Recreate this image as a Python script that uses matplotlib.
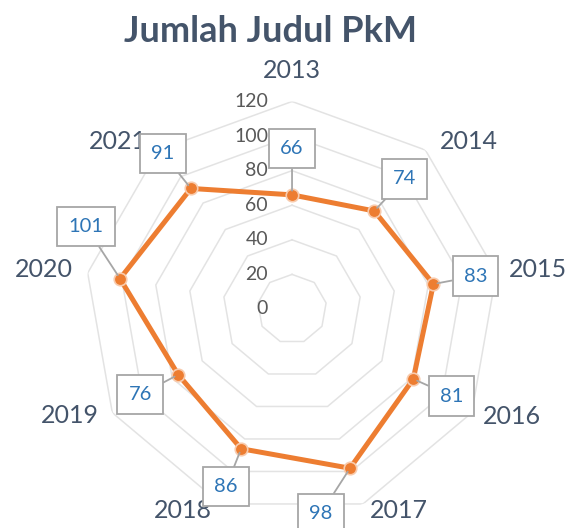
import matplotlib.pyplot as plt
import numpy as np

# data
years = ['2013', '2014', '2015', '2016', '2017', '2018', '2019', '2020', '2021']
values = [66, 74, 83, 81, 98, 86, 76, 101, 91]
r_ticks = [0, 20, 40, 60, 80, 100, 120]

# layout helpers (pixel offsets from the point / outer vertex)
label_offsets = [(0, 46), (30, 32), (42, 8), (38, -17), (-29, -45),
                 (-15, -38), (-38, -20), (-34, 52), (-28, 35)]
year_offsets = [(0, 31), (43, 9), (42, 3), (40, -4), (36, -7),
                (-38, -7), (-42, -3), (-44, 3), (-41, 9)]

plt.rcParams['font.family'] = ['Lato', 'DejaVu Sans']

fig = plt.figure(figsize=(5.73, 5.28), dpi=100)
ax = fig.add_axes([0.1475, 0.0218, 0.7243, 0.786], projection='polar')
ax.set_theta_zero_location('N')
ax.set_theta_direction(-1)
ax.set_ylim(0, r_ticks[-1])
ax.grid(False)
ax.spines['polar'].set_visible(False)
ax.set_xticks([])
ax.set_yticks([])

n = len(years)
theta = np.arange(n) * 2 * np.pi / n
theta_closed = np.append(theta, theta[0])

# polygon gridlines, no spokes
grid_col = '#e3e3e3'
for t in r_ticks[1:]:
    ax.plot(theta_closed, [t] * (n + 1), color=grid_col, lw=1.1, zorder=1)

# radial tick labels
for t in r_ticks:
    ax.annotate(str(t), xy=(0, t), xytext=(-24, 0), textcoords='offset pixels',
                ha='right', va='center', fontsize=14, color='#595959')

# category labels
for th, yr, off in zip(theta, years, year_offsets):
    ax.annotate(yr, xy=(th, r_ticks[-1]), xytext=off, textcoords='offset pixels',
                ha='center', va='center', fontsize=18, color='#44546a')

vals_closed = values + [values[0]]
ax.plot(theta_closed, vals_closed, color='#ed7d31', lw=3.6, zorder=3,
        solid_capstyle='round')
ax.plot(theta, values, 'o', color='#ed7d31', markersize=9,
        markeredgecolor='#f8cbad', markeredgewidth=1.2, zorder=4)

# data labels
for th, v, off in zip(theta, values, label_offsets):
    ax.annotate(str(v), xy=(th, v), xytext=off, textcoords='offset pixels',
                ha='center', va='center', fontsize=14.5, color='#2e75b6',
                bbox=dict(boxstyle='square,pad=0.55', fc='white',
                          ec='#a6a6a6', lw=1.3),
                arrowprops=dict(arrowstyle='-', color='#a6a6a6', lw=1.3,
                                shrinkA=0, shrinkB=3),
                zorder=5)

fig.text(270 / 573, 1 - 42 / 528, 'Jumlah Judul PkM', ha='center',
         va='baseline', fontsize=26, fontweight='bold', color='#44546a')

fig.savefig('out.png', dpi=100, facecolor='white')
